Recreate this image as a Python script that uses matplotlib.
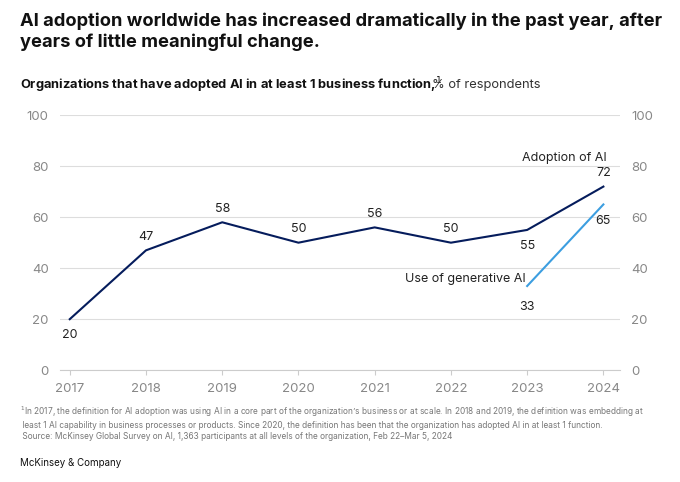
import matplotlib.pyplot as plt

years = [2017, 2018, 2019, 2020, 2021, 2022, 2023, 2024]
adoption = [20, 47, 58, 50, 56, 50, 55, 72]
gen_years = [2023, 2024]
gen_ai = [33, 65]

plt.rcParams['font.family'] = ['Inter', 'DejaVu Sans']
fig = plt.figure(figsize=(6.8, 4.82), dpi=100)
ax = fig.add_axes([0.088, 0.232, 0.824, 0.529])

ax.plot(years, adoption, color='#051c5c', lw=1.5, zorder=3)
ax.plot(gen_years, gen_ai, color='#3c9ee0', lw=1.5, zorder=3)

ax.set_xlim(2016.87, 2024.22)
ax.set_ylim(0, 100)
ax.set_yticks(range(0, 101, 20))
ax.set_xticks(years)
ax.grid(axis='y', color='#dddddd', lw=0.8)
for s in ['top', 'right', 'left']:
    ax.spines[s].set_visible(False)
ax.spines['bottom'].set_color('#cccccc')
ax.tick_params(axis='y', length=0, labelcolor='#888888', labelsize=9.5, pad=8)
ax.tick_params(axis='x', color='#cccccc', labelcolor='#888888', labelsize=9.5, pad=6)
ax.tick_params(axis='y', labelright=True)

fs = 9
below = {2017: True, 2023: True}
for x, y in zip(years, adoption):
    if below.get(x):
        ax.text(x, y - 4, str(y), ha='center', va='top', fontsize=fs, color='#222222')
    else:
        ax.text(x, y + 3, str(y), ha='center', va='bottom', fontsize=fs, color='#222222')
ax.text(2024.05, 81, 'Adoption of AI', ha='right', va='bottom', fontsize=fs, color='#222222')
ax.text(2024, 61, str(gen_ai[1]), ha='center', va='top', fontsize=fs, color='#222222')
ax.text(2023, 27, str(gen_ai[0]), ha='center', va='top', fontsize=fs, color='#222222')
ax.text(2022.98, 33.5, 'Use of generative AI', ha='right', va='bottom', fontsize=fs, color='#222222')

fig.text(0.03, 0.975, 'AI adoption worldwide has increased dramatically in the past year, after\nyears of little meaningful change.',
         ha='left', va='top', fontsize=13.2, fontweight='bold', color='#111111', linespacing=1.3)
fig.text(0.03, 0.824, 'Organizations that have adopted AI in at least 1 business function,$^{1}$',
         ha='left', va='center', fontsize=9.3, fontweight='bold', color='#111111')
fig.text(0.635, 0.824, '% of respondents', ha='left', va='center', fontsize=9.3, color='#333333')

fig.text(0.03, 0.16, '$^{1}$In 2017, the definition for AI adoption was using AI in a core part of the organization\u2019s business or at scale. In 2018 and 2019, the definition was embedding at\n least 1 AI capability in business processes or products. Since 2020, the definition has been that the organization has adopted AI in at least 1 function.\n Source: McKinsey Global Survey on AI, 1,363 participants at all levels of the organization, Feb 22\u2013Mar 5, 2024',
         ha='left', va='top', fontsize=6.0, color='#777777', linespacing=1.25)
fig.text(0.03, 0.04, 'McKinsey & Company', ha='left', va='center', fontsize=7, color='#111111')

fig.savefig('out.png', dpi=100)
